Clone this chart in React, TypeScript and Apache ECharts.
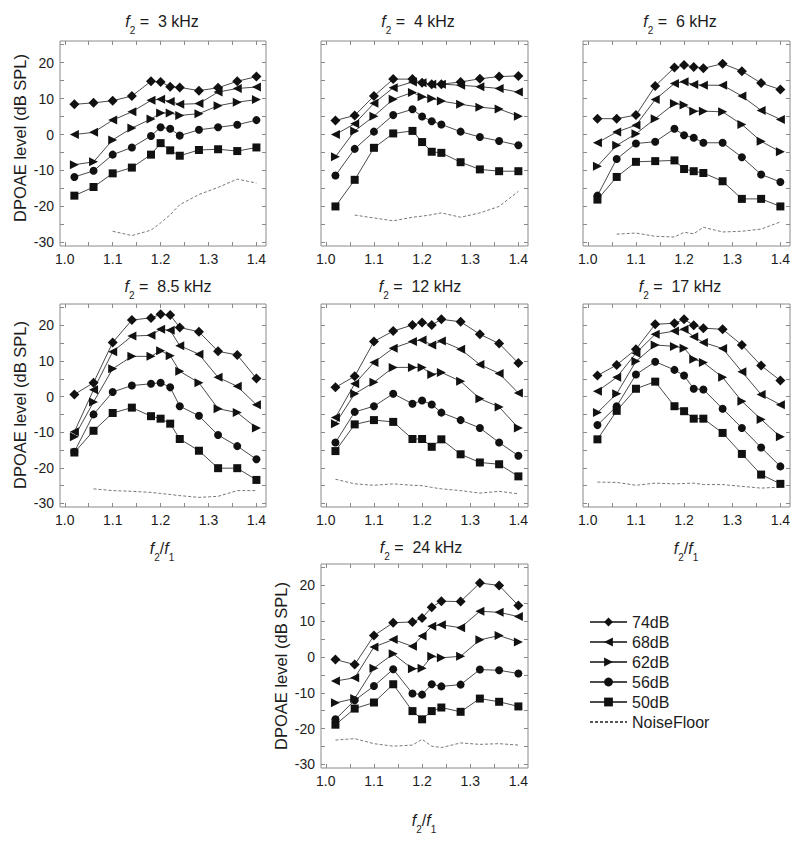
import React, { useEffect, useRef } from 'react';
import * as echarts from 'echarts';

// ---------- data ----------
const ratios = [1.02, 1.06, 1.1, 1.14, 1.18, 1.2, 1.22, 1.24, 1.28, 1.32, 1.36, 1.4];
const levelNames = ['74dB', '68dB', '62dB', '56dB', '50dB'];
const noiseName = 'NoiseFloor';
const panelFreqs = ['3', '4', '6', '8.5', '12', '17', '24'];
const xTickLabels = [1.0, 1.1, 1.2, 1.3, 1.4];
const xTickMarks = [1.0, 1.05, 1.1, 1.15, 1.2, 1.25, 1.3, 1.35, 1.4];
const yTickLabels = [-30, -20, -10, 0, 10, 20];
const yTickMarks = [-30, -25, -20, -15, -10, -5, 0, 5, 10, 15, 20, 25];

const f3kHz = [
  [8.4, 8.8, 9.4, 10.7, 14.8, 14.6, 13.3, 13.1, 12.2, 13.0, 14.8, 16.1],
  [0.0, 0.6, 4.0, 6.3, 9.5, 9.8, 9.2, 8.4, 8.6, 11.8, 12.8, 13.2],
  [-8.4, -7.6, -1.5, 1.8, 4.3, 6.0, 6.0, 5.3, 5.8, 8.0, 9.0, 9.7],
  [-11.8, -10.1, -5.6, -3.6, -0.4, 2.0, 1.6, -0.3, 1.3, 2.0, 2.7, 4.0],
  [-17.0, -14.6, -10.8, -9.2, -5.6, -2.4, -4.4, -5.9, -4.3, -4.1, -4.6, -3.6],
];
const f3kHzNoise = [null, null, -26.9, -28.1, -26.6, -24.6, -22.3, -19.5, -16.7, -14.7, -12.4, -13.5];

const f4kHz = [
  [3.9, 5.3, 10.7, 15.4, 15.4, 14.4, 14.0, 14.0, 14.6, 15.5, 16.1, 16.3],
  [0.0, 3.0, 8.7, 13.0, 14.6, 14.4, 14.0, 14.0, 13.7, 13.3, 12.8, 11.8],
  [-6.2, 1.0, 5.1, 9.8, 11.7, 10.5, 10.0, 9.3, 8.4, 7.6, 7.1, 5.1],
  [-11.4, -4.0, 0.8, 5.4, 7.0, 5.0, 3.7, 2.8, 0.8, -0.7, -1.8, -3.0],
  [-20.0, -12.6, -3.7, 0.3, 1.0, -2.1, -4.8, -5.1, -7.7, -9.7, -10.2, -10.2],
];
const f4kHzNoise = [null, -22.4, -23.2, -24.0, -23.0, -22.7, -22.3, -21.8, -23.0, -21.8, -20.0, -15.8];

const f6kHz = [
  [4.4, 4.4, 5.4, 13.5, 18.6, 19.3, 18.8, 18.4, 19.7, 17.6, 14.3, 12.5],
  [-2.3, 0.7, 2.6, 9.7, 14.2, 14.7, 13.9, 13.7, 13.7, 10.7, 6.7, 4.2],
  [-8.8, -3.0, 0.2, 4.4, 8.6, 8.2, 6.5, 6.5, 6.3, 2.8, -1.9, -4.8],
  [-17.0, -6.8, -2.5, -2.0, 1.6, -0.2, -0.9, -2.3, -2.3, -6.3, -11.1, -13.2],
  [-18.1, -11.8, -7.6, -7.4, -7.2, -9.6, -10.2, -10.7, -13.0, -17.9, -17.9, -20.0],
];
const f6kHzNoise = [null, -27.7, -27.4, -28.3, -28.5, -27.2, -27.6, -25.8, -27.1, -26.9, -26.3, -24.3];

const f8_5kHz = [
  [0.6, 3.9, 15.2, 21.5, 22.1, 23.1, 22.9, 19.4, 18.2, 12.7, 11.7, 5.1],
  [-9.9, 1.9, 12.6, 17.0, 17.2, 18.9, 18.6, 14.3, 11.9, 5.4, 2.9, -2.3],
  [-11.3, -1.5, 7.8, 11.3, 11.3, 12.9, 11.5, 7.1, 3.9, -3.4, -4.5, -8.8],
  [-15.5, -5.0, 1.3, 3.1, 3.6, 3.9, 2.6, -2.7, -5.4, -10.8, -13.9, -17.6],
  [-15.7, -9.6, -4.6, -3.1, -5.5, -6.2, -7.6, -11.9, -15.2, -20.1, -20.1, -23.4],
];
const f8_5kHzNoise = [null, -25.9, -26.4, -26.6, -26.9, -27.2, -27.5, -27.8, -28.3, -28.0, -26.4, -26.4];

const f12kHz = [
  [2.6, 5.7, 15.5, 18.4, 20.1, 20.8, 20.1, 21.7, 21.0, 17.5, 14.9, 9.4],
  [-5.9, 3.6, 9.6, 13.6, 15.5, 15.9, 14.5, 15.6, 13.3, 9.0, 6.5, 1.0],
  [-7.6, 0.8, 4.0, 8.2, 8.2, 8.2, 6.2, 6.8, 4.3, -0.6, -2.9, -8.8],
  [-12.9, -4.3, -2.7, 0.8, -2.0, -1.1, -2.2, -4.5, -6.6, -8.8, -12.9, -16.6],
  [-15.3, -7.8, -6.6, -7.1, -11.9, -11.9, -14.1, -12.0, -16.2, -18.5, -19.0, -22.4],
];
const f12kHzNoise = [-23.2, -24.5, -24.9, -24.5, -24.9, -25.0, -25.5, -25.9, -26.4, -27.1, -26.6, -27.3];

const f17kHz = [
  [5.9, 8.9, 13.3, 20.3, 20.6, 21.7, 20.0, 19.2, 18.9, 14.5, 8.7, 4.5],
  [1.5, 5.4, 12.2, 17.5, 18.4, 18.9, 16.8, 15.2, 13.5, 7.0, 0.6, -2.3],
  [-4.5, 0.8, 9.9, 14.5, 14.1, 13.6, 10.5, 9.6, 5.4, -1.3, -6.4, -11.3],
  [-8.0, -2.7, 6.2, 9.8, 7.5, 5.9, 2.2, 2.0, -3.4, -8.8, -14.3, -19.6],
  [-12.0, -4.0, 2.2, 4.2, -2.7, -4.1, -6.2, -6.2, -10.2, -16.1, -21.9, -24.5],
];
const f17kHzNoise = [-24.0, -24.1, -24.9, -24.3, -24.5, -24.4, -24.3, -24.7, -24.7, -25.2, -25.7, -25.4];

const f24kHz = [
  [-0.7, -2.1, 6.0, 9.6, 9.8, 10.9, 13.9, 15.6, 15.5, 20.7, 20.0, 14.4],
  [-6.7, -5.8, 2.8, 4.9, 3.0, 5.9, 8.6, 9.0, 8.2, 12.8, 12.5, 11.3],
  [-12.8, -11.6, -3.1, 0.9, -3.3, -3.1, 0.2, -0.2, 0.2, 4.8, 6.0, 4.2],
  [-17.4, -12.1, -8.1, -3.4, -10.2, -10.5, -7.6, -8.2, -7.7, -3.5, -3.7, -4.6],
  [-18.9, -14.4, -12.7, -7.6, -15.1, -17.4, -15.1, -14.1, -15.3, -11.6, -12.5, -13.8],
];
const f24kHzNoise = [-23.2, -22.8, -24.2, -24.9, -24.6, -23.0, -24.9, -25.3, -24.0, -24.4, -24.2, -24.6];

const panelLevels = [f3kHz, f4kHz, f6kHz, f8_5kHz, f12kHz, f17kHz, f24kHz];
const panelNoise = [f3kHzNoise, f4kHzNoise, f6kHzNoise, f8_5kHzNoise, f12kHzNoise, f17kHzNoise, f24kHzNoise];

// ---------- layout / style ----------
const FONT = '"Liberation Sans", Arial, Helvetica, sans-serif';
const AXIS_COLOR = '#8a8a8a';
const TEXT_COLOR = '#1c1c1c';
const LINE_COLOR = '#4a4a4a';
const MARK_COLOR = '#111111';
const X_MIN = 0.99;
const X_MAX = 1.42;
const Y_MIN = -31;
const Y_MAX = 26;

const GRIDS = [
  { left: 60, top: 41, width: 206, height: 205 },
  { left: 321, top: 41, width: 207, height: 205 },
  { left: 583, top: 41, width: 207, height: 205 },
  { left: 60, top: 304, width: 206, height: 203 },
  { left: 321, top: 304, width: 207, height: 203 },
  { left: 583, top: 304, width: 207, height: 203 },
  { left: 321, top: 564, width: 207, height: 204 },
];
const SHOW_Y_LABELS = [true, false, false, true, false, false, true];
const TITLE_POS = [
  [162, 21], [418, 21], [680, 21],
  [168, 286], [420, 286], [680, 286],
  [421, 547],
];

const SYMBOLS = [
  'diamond',
  'path://M0,5L10,0L10,10Z',
  'path://M10,5L0,0L0,10Z',
  'circle',
  'rect',
];
const SIZES = [10, 9, 9, 8, 8];

function richLabel(size: number) {
  return {
    i: { fontStyle: 'italic', fontSize: size, fontFamily: FONT, fill: TEXT_COLOR, lineHeight: 28 },
    s: { fontSize: Math.round(size * 0.62), fontFamily: FONT, fill: TEXT_COLOR, lineHeight: 11, verticalAlign: 'bottom' },
    t: { fontSize: size, fontFamily: FONT, fill: TEXT_COLOR, lineHeight: 28 },
  };
}

function richText(text: string, x: number, y: number, size: number) {
  return {
    type: 'text',
    x,
    y,
    silent: true,
    style: {
      text,
      rich: richLabel(size),
      align: 'center',
      verticalAlign: 'middle',
      textAlign: 'center',
      textVerticalAlign: 'middle',
      fill: TEXT_COLOR,
      font: `${size}px ${FONT}`,
    },
  };
}

function plainRotated(text: string, x: number, y: number, size: number) {
  return {
    type: 'text',
    x,
    y,
    rotation: Math.PI / 2,
    silent: true,
    style: {
      text,
      align: 'center',
      verticalAlign: 'middle',
      textAlign: 'center',
      textVerticalAlign: 'middle',
      fill: TEXT_COLOR,
      fontSize: size,
      fontFamily: FONT,
    },
  };
}

function buildOption() {
  const grid = GRIDS.map((g) => ({
    ...g,
    show: true,
    borderColor: AXIS_COLOR,
    borderWidth: 1,
    backgroundColor: 'transparent',
    containLabel: false,
  }));

  const xAxis: any[] = [];
  const yAxis: any[] = [];
  GRIDS.forEach((_, i) => {
    const xBase = {
      type: 'value',
      gridIndex: i,
      min: X_MIN,
      max: X_MAX,
      splitLine: { show: false },
      axisLine: { show: false, onZero: false },
      axisTick: { show: true, inside: true, length: 4, customValues: xTickMarks, lineStyle: { color: AXIS_COLOR } },
    };
    xAxis.push({
      ...xBase,
      position: 'bottom',
      axisLabel: {
        show: true,
        customValues: xTickLabels,
        formatter: (v: number) => Number(v).toFixed(1),
        color: TEXT_COLOR,
        fontSize: 14,
        fontFamily: FONT,
        margin: 6,
      },
    });
    xAxis.push({ ...xBase, position: 'top', axisLabel: { show: false } });

    const yBase = {
      type: 'value',
      gridIndex: i,
      min: Y_MIN,
      max: Y_MAX,
      splitLine: { show: false },
      axisLine: { show: false, onZero: false },
      axisTick: { show: true, inside: true, length: 4, customValues: yTickMarks, lineStyle: { color: AXIS_COLOR } },
    };
    yAxis.push({
      ...yBase,
      position: 'left',
      axisLabel: {
        show: SHOW_Y_LABELS[i],
        customValues: yTickLabels,
        formatter: (v: number) => String(v),
        color: TEXT_COLOR,
        fontSize: 14,
        fontFamily: FONT,
        margin: 6,
      },
    });
    yAxis.push({ ...yBase, position: 'right', axisLabel: { show: false } });
  });

  const series: any[] = [];
  panelLevels.forEach((levels, i) => {
    series.push({
      type: 'line',
      name: noiseName,
      xAxisIndex: 2 * i,
      yAxisIndex: 2 * i,
      data: ratios.map((x, k) => [x, panelNoise[i][k]]),
      showSymbol: false,
      symbol: 'none',
      connectNulls: false,
      lineStyle: { color: '#555555', width: 0.8, type: [3, 2] },
      itemStyle: { color: '#555555' },
      silent: true,
    });
    levels.forEach((vals, j) => {
      series.push({
        type: 'line',
        name: levelNames[j],
        xAxisIndex: 2 * i,
        yAxisIndex: 2 * i,
        data: ratios.map((x, k) => [x, vals[k]]),
        symbol: SYMBOLS[j],
        symbolSize: SIZES[j],
        showSymbol: true,
        lineStyle: { color: LINE_COLOR, width: 1 },
        itemStyle: { color: MARK_COLOR },
        silent: true,
        z: 3,
      });
    });
  });

  const graphic: any[] = [];
  panelFreqs.forEach((f, i) => {
    const [x, y] = TITLE_POS[i];
    graphic.push(richText(`{i|f}{s|2}{t| =  ${f} kHz}`, x, y, 16));
  });
  graphic.push(plainRotated('DPOAE level (dB SPL)', 20, 138, 16.5));
  graphic.push(plainRotated('DPOAE level (dB SPL)', 20, 405, 16.5));
  graphic.push(plainRotated('DPOAE level (dB SPL)', 281, 666, 16.5));
  graphic.push(richText('{i|f}{s|2}{t|/}{i|f}{s|1}', 162, 548, 16));
  graphic.push(richText('{i|f}{s|2}{t|/}{i|f}{s|1}', 686, 548, 16));
  graphic.push(richText('{i|f}{s|2}{t|/}{i|f}{s|1}', 424, 820, 16));

  return {
    animation: false,
    backgroundColor: '#ffffff',
    grid,
    xAxis,
    yAxis,
    series,
    graphic,
    legend: {
      show: true,
      orient: 'vertical',
      left: 584,
      top: 609,
      itemWidth: 37,
      itemHeight: 11,
      itemGap: 4,
      selectedMode: false,
      textStyle: { fontSize: 16, color: TEXT_COLOR, fontFamily: FONT },
      data: [
        ...levelNames,
        { name: noiseName, itemStyle: { opacity: 0, borderWidth: 0 } },
      ],
    },
  };
}

export default function App() {
  const ref = useRef<HTMLDivElement>(null);
  useEffect(() => {
    if (!ref.current) return;
    const chart = echarts.init(ref.current, null, { renderer: 'svg' });
    chart.setOption(buildOption() as any);
    return () => chart.dispose();
  }, []);
  return (
    <div
      ref={ref}
      style={{ position: 'absolute', left: 0, top: 0, width: 800, height: 846, background: '#fff' }}
    />
  );
}
